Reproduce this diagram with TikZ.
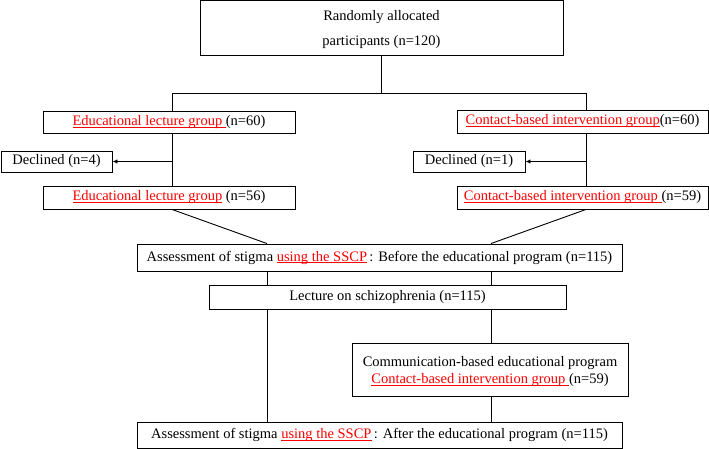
\documentclass[tikz,border=0pt]{standalone}
\usepackage{fontspec}
\setmainfont{Liberation Serif}
\usetikzlibrary{arrows.meta}
\newcommand\ulred[1]{\textcolor{red}{\setbox0\hbox{#1}\rlap{\rule[-2pt]{\wd0}{0.7pt}}\box0}}
\begin{document}
\begin{tikzpicture}[x=1pt,y=-1pt,
  box/.style={draw, line width=0.9pt, inner sep=0pt, align=center,
    font=\fontsize{14.5}{17.5}\selectfont},
  conn/.style={line width=0.9pt},
  arr/.style={conn, -{Latex[length=5pt,width=4.5pt]}}]
\useasboundingbox (0,0) rectangle (709,449);
% nodes
\node[box, minimum width=363pt, minimum height=55pt] (top) at (381.5,28)
  {\rule{0pt}{13pt}Randomly allocated\\[8.2pt]participants (n=120)};
\node[box, minimum width=252pt, minimum height=22pt] (a1) at (169,122)
  {\ulred{Educational lecture group }(n=60)};
\node[box, minimum width=251pt, minimum height=23pt] (b1) at (582.5,121.5)
  {\ulred{Contact-based intervention group}(n=60)};
\node[box, minimum width=111pt, minimum height=21pt] (dl) at (56.5,161.5)
  {Declined (n=4)};
\node[box, minimum width=112pt, minimum height=21pt] (dr) at (469,161.5)
  {Declined (n=1)};
\node[box, minimum width=252pt, minimum height=23pt] (a2) at (169,197.5)
  {\ulred{Educational lecture group} (n=56)};
\node[box, minimum width=251pt, minimum height=23pt] (b2) at (582.5,197.5)
  {\ulred{Contact-based intervention group }(n=59)};
\node[box, minimum width=485pt, minimum height=27pt] (bef) at (379.5,257.5)
  {Assessment of stigma \ulred{using the SSCP}\,: Before the educational program (n=115)};
\node[box, minimum width=357pt, minimum height=24pt] (lec) at (387.5,297)
  {Lecture on schizophrenia (n=115)};
\node[box, minimum width=276pt, minimum height=53pt] (com) at (490,369.5)
  {\rule{0pt}{13.8pt}Communication-based educational program\\\ulred{Contact-based intervention group }(n=59)};
\node[box, minimum width=485pt, minimum height=26pt] (aft) at (379.5,435)
  {Assessment of stigma \ulred{using the SSCP}\,: After the educational program (n=115)};
% helper coordinates
\coordinate (jl) at (172,93);
\coordinate (jr) at (586,93);
\coordinate (pl) at (267,0);
\coordinate (pr) at (491,0);
% connectors
\draw[conn] (top.south) -- (top.south |- jl);
\draw[conn] (jl |- a1.north) -- (jl) -- (jr) -- (jr |- b1.north);
\draw[conn] (jl |- a1.south) -- (jl |- a2.north);
\draw[conn] (jr |- b1.south) -- (jr |- b2.north);
\draw[arr] (jl |- dl.east) -- (dl.east);
\draw[arr] (jr |- dr.east) -- (dr.east);
\draw[conn] (jl |- a2.south) -- (pl |- bef.north);
\draw[conn] (jr |- b2.south) -- (pr |- bef.north);
\draw[conn] (pl |- bef.south) -- (pl |- lec.north);
\draw[conn] (pr |- bef.south) -- (pr |- lec.north);
\draw[conn] (pl |- lec.south) -- (pl |- aft.north);
\draw[conn] (pr |- lec.south) -- (pr |- com.north);
\draw[conn] (pr |- com.south) -- (pr |- aft.north);
\end{tikzpicture}
\end{document}
